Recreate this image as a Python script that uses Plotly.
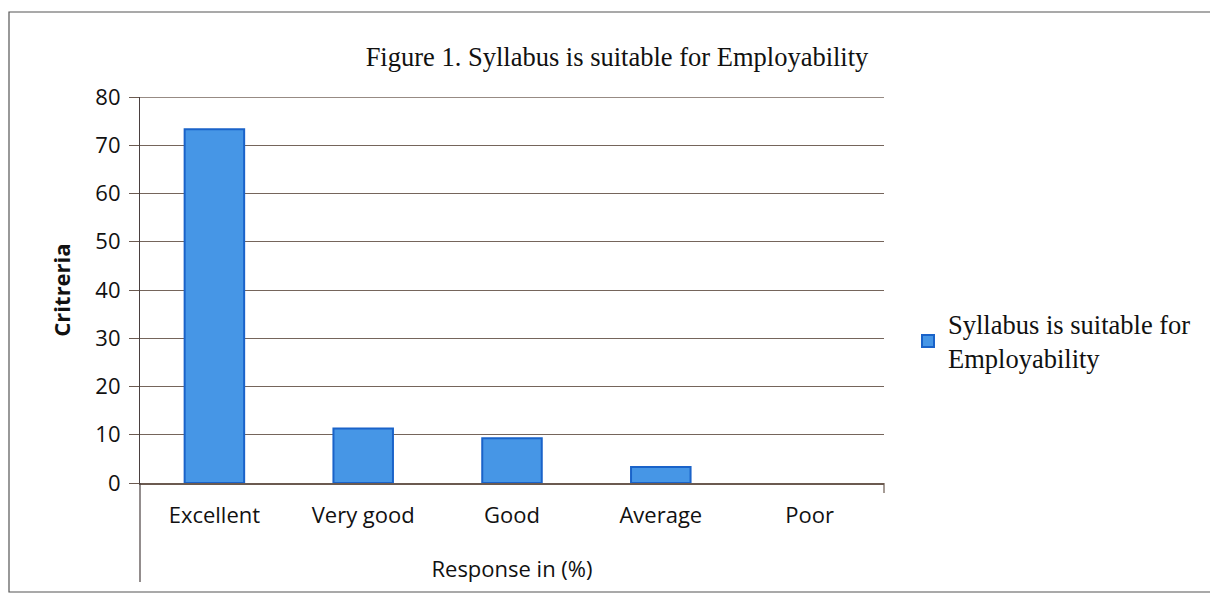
import plotly.graph_objects as go

categories = ["Excellent", "Very good", "Good", "Average", "Poor"]
values = [73.3, 11.3, 9.3, 3.3, 0]
series_name = "Syllabus is suitable for<br>Employability"
y_ticks = [0, 10, 20, 30, 40, 50, 60, 70, 80]

# page has an 8px body margin; work in figure coordinates
OFF = 8
W, H = 1210, 590
L, R, T, B = 132, 334, 89, 115
pw, ph = W - L - R, H - T - B

def px_x(x):
    return (x - OFF - L) / pw

def px_y(y):
    return (H - B - (y - OFF)) / ph

fig = go.Figure()
fig.add_trace(go.Bar(
    x=categories, y=values, name=series_name,
    marker=dict(color="#4696e6",
                line=dict(color="#1a63c9", width=[2 if v > 0 else 0 for v in values])),
    showlegend=True,
))

grid_col = "#75655b"
fig.update_layout(
    width=W, height=H,
    margin=dict(l=L, r=R, t=T, b=B),
    paper_bgcolor="white", plot_bgcolor="white",
    bargap=0.6,
    title=dict(text="Figure 1. Syllabus is suitable for Employability",
               font=dict(family="Liberation Serif", size=26.5, color="#111"),
               x=(617 - OFF) / W, xanchor="center", y=1 - (57 - OFF) / H, yanchor="middle"),
    xaxis=dict(
        showgrid=False, showline=True, linecolor="#6b5a50", linewidth=1.5,
        ticks="outside", ticklen=12, tickcolor="rgba(0,0,0,0)",
        tickfont=dict(family="Open Sans", size=22, color="#111"),
        title=dict(text="Response in (%)", font=dict(family="Open Sans", size=22, color="#111"), standoff=33),
    ),
    yaxis=dict(
        range=[0, 80], tickvals=y_ticks,
        showgrid=True, gridcolor=grid_col, gridwidth=1.4,
        showline=True, linecolor="#4a4040", linewidth=1.2,
        ticks="outside", ticklen=10, tickcolor="#6b5a50",
        ticklabelstandoff=4,
        tickfont=dict(family="Open Sans", size=22, color="#111"),
        title=dict(text="<b>Critreria</b>", font=dict(family="Open Sans", size=22, color="#111"), standoff=18),
        zeroline=False,
    ),
    legend=dict(
        x=px_x(908), y=px_y(341), xanchor="left", yanchor="middle",
        font=dict(family="Liberation Serif", size=26.5, color="#111"),
        itemwidth=30, bgcolor="rgba(0,0,0,0)",
    ),
    shapes=[
        dict(type="rect", xref="paper", yref="paper",
             x0=px_x(9), x1=px_x(1214), y0=px_y(592), y1=px_y(12),
             line=dict(color="#555", width=1.2)),
        dict(type="line", xref="paper", yref="y",
             x0=0, x1=1, y0=80, y1=80,
             line=dict(color=grid_col, width=1.4)),
        dict(type="line", xref="paper", yref="paper",
             x0=0, x1=0, y0=px_y(483), y1=px_y(582),
             line=dict(color="#4a4040", width=1.2)),
        dict(type="line", xref="paper", yref="paper",
             x0=1, x1=1, y0=px_y(483), y1=px_y(493),
             line=dict(color="#6b5a50", width=1.2)),
    ],
)

fig.write_html("out.html")
